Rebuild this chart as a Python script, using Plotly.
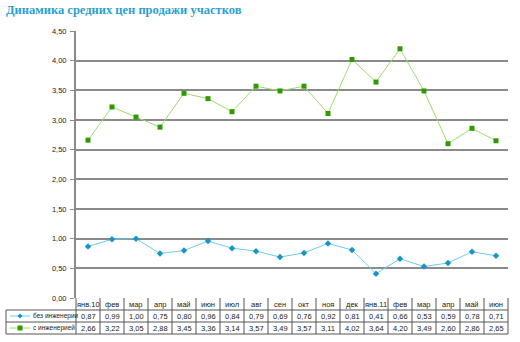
import plotly.graph_objects as go

W, H = 520, 342

months = ["янв.10", "фев", "мар", "апр", "май", "июн", "июл", "авг", "сен",
          "окт", "ноя", "дек", "янв.11", "фев", "мар", "апр", "май", "июн"]
no_utilities = [0.87, 0.99, 1.00, 0.75, 0.80, 0.96, 0.84, 0.79, 0.69,
                0.76, 0.92, 0.81, 0.41, 0.66, 0.53, 0.59, 0.78, 0.71]
with_utilities = [2.66, 3.22, 3.05, 2.88, 3.45, 3.36, 3.14, 3.57, 3.49,
                  3.57, 3.11, 4.02, 3.64, 4.20, 3.49, 2.60, 2.86, 2.65]
series_names = ["без инженерии", "с инженерией"]
y_ticks = [0, 0.5, 1.0, 1.5, 2.0, 2.5, 3.0, 3.5, 4.0, 4.5]

BLUE_LINE, BLUE_MARK = "#6fcbe8", "#1696c8"
GREEN_LINE, GREEN_MARK = "#9ddc6a", "#2f9a00"
TXT = "#222222"
FONT = "Liberation Sans, Arial, sans-serif"


def px(x):
    return x / W


def py(y):
    return 1 - y / H


# pixel geometry of the plot area and the data table beneath it
LEFT, RIGHT, TOP, BASE = 76, 508, 31, 298
ROWS = [298, 310, 322, 334]
LEG_LEFT = 6
n = len(months)
col_w = (RIGHT - LEFT) / n

xs = list(range(n))
fig = go.Figure()
fig.add_trace(go.Scatter(
    x=xs, y=no_utilities, mode="lines+markers", name=series_names[0],
    line=dict(color=BLUE_LINE, width=1),
    marker=dict(symbol="diamond", size=5, color=BLUE_MARK),
))
fig.add_trace(go.Scatter(
    x=xs, y=with_utilities, mode="lines+markers", name=series_names[1],
    line=dict(color=GREEN_LINE, width=1),
    marker=dict(symbol="square", size=5, color=GREEN_MARK),
))

shapes = []
line_style = dict(color="#555555", width=1)
# header row: vertical separators between month cells
for k in range(n + 1):
    x = LEFT + k * col_w
    shapes.append(dict(type="line", xref="paper", yref="paper",
                       x0=px(x), x1=px(x), y0=py(ROWS[0]), y1=py(ROWS[3]),
                       line=line_style))
# horizontal row borders
for r in ROWS[1:]:
    shapes.append(dict(type="line", xref="paper", yref="paper",
                       x0=px(LEG_LEFT), x1=px(RIGHT), y0=py(r), y1=py(r),
                       line=line_style))
# left border of the legend column
shapes.append(dict(type="line", xref="paper", yref="paper",
                   x0=px(LEG_LEFT), x1=px(LEG_LEFT), y0=py(ROWS[1]), y1=py(ROWS[3]),
                   line=line_style))

annotations = []
cell_font = dict(family=FONT, size=7.5, color=TXT)
for k, m in enumerate(months):
    cx = LEFT + (k + 0.5) * col_w
    annotations.append(dict(x=px(cx), y=py((ROWS[0] + ROWS[1]) / 2), xref="paper",
                            yref="paper", text=m, showarrow=False, font=cell_font,
                            xanchor="center", yanchor="middle"))
    for row, vals in enumerate([no_utilities, with_utilities]):
        annotations.append(dict(x=px(cx), y=py((ROWS[row + 1] + ROWS[row + 2]) / 2),
                                xref="paper", yref="paper",
                                text=f"{vals[k]:.2f}".replace(".", ","),
                                showarrow=False, font=cell_font,
                                xanchor="center", yanchor="middle"))

# legend keys inside the table's first column
legend_font = dict(family=FONT, size=6.5, color=TXT)
for row, (name, lc, mc, sym) in enumerate([
        (series_names[0], BLUE_LINE, BLUE_MARK, "diamond"),
        (series_names[1], GREEN_LINE, GREEN_MARK, "square")]):
    yc = (ROWS[row + 1] + ROWS[row + 2]) / 2
    shapes.append(dict(type="line", xref="paper", yref="paper",
                       x0=px(10), x1=px(30), y0=py(yc), y1=py(yc),
                       line=dict(color=lc, width=1)))
    if sym == "square":
        shapes.append(dict(type="rect", xref="paper", yref="paper",
                           x0=px(17.5), x1=px(22.5), y0=py(yc - 2.5), y1=py(yc + 2.5),
                           fillcolor=mc, line=dict(width=0)))
    else:
        shapes.append(dict(type="path", xref="paper", yref="paper",
                           path=(f"M {px(20)} {py(yc - 2.5)} L {px(22.5)} {py(yc)} "
                                 f"L {px(20)} {py(yc + 2.5)} L {px(17.5)} {py(yc)} Z"),
                           fillcolor=mc, line=dict(width=0)))
    annotations.append(dict(x=px(31), y=py(yc), xref="paper", yref="paper",
                            text=name, showarrow=False, font=legend_font,
                            xanchor="left", yanchor="middle"))

annotations.append(dict(x=px(4), y=py(10), xref="paper", yref="paper",
                        text="<b>Динамика средних цен продажи участков</b>",
                        showarrow=False, xanchor="left", yanchor="middle",
                        font=dict(family="Liberation Serif, Times New Roman, serif",
                                  size=12.5, color="#2a9fd2")))

fig.update_layout(
    width=W, height=H,
    margin=dict(l=0, r=0, t=0, b=0, autoexpand=False),
    paper_bgcolor="white", plot_bgcolor="white",
    showlegend=False,
    separators=", ",
    shapes=shapes,
    annotations=annotations,
    xaxis=dict(domain=[px(LEFT), px(RIGHT)], range=[-0.5, n - 0.5],
               showticklabels=False, showgrid=False, zeroline=False,
               showline=False, ticks="", automargin=False),
    yaxis=dict(domain=[py(BASE), py(TOP)], range=[0, 4.5],
               tickvals=y_ticks, tickformat=".2f", automargin=False,
               tickfont=dict(family=FONT, size=7.5, color=TXT),
               showgrid=True, gridcolor="#8a8a8a", gridwidth=1.5,
               zeroline=False, showline=True, linecolor="#8a8a8a", linewidth=2,
               ticks="outside", ticklen=4, tickcolor="#8a8a8a", tickwidth=1,
               ticklabelstandoff=2),
)

fig.write_html("out.html")
